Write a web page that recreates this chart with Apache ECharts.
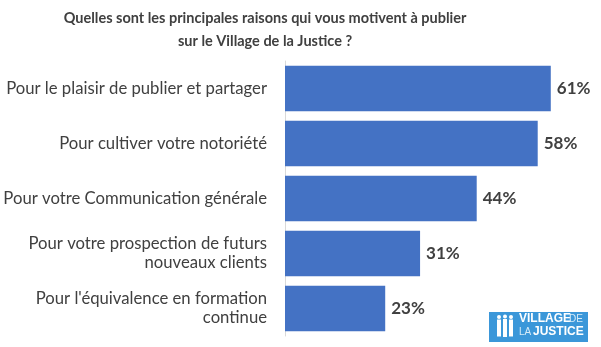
<!DOCTYPE html>
<html>
<head>
<meta charset="utf-8">
<script src="https://cdn.jsdelivr.net/npm/echarts@6/dist/echarts.min.js"></script>
<style>html,body{margin:0;padding:0;background:#fff}#c{width:601px;height:347px}</style>
</head>
<body>
<div id="c"></div>
<script>
var titleText = "Quelles sont les principales raisons qui vous motivent à publier\nsur le Village de la Justice ?";
var categories = [
  "Pour le plaisir de publier et partager",
  "Pour cultiver votre notoriété",
  "Pour votre Communication générale",
  "Pour votre prospection de futurs\nnouveaux clients",
  "Pour l'équivalence en formation\ncontinue"
];
var values = [61, 58, 44, 31, 23];

var chart = echarts.init(document.getElementById('c'), null, {renderer: 'canvas'});
var F = 'Lato, sans-serif';
chart.setOption({
  animation: false,
  backgroundColor: '#ffffff',
  title: {
    text: titleText,
    left: 260, top: 2, textAlign: 'center',
    textStyle: {fontFamily: F, fontSize: 14.5, fontWeight: 'bold', color: '#404040', lineHeight: 23}
  },
  grid: {left: 285, right: 11, top: 61, bottom: 11, containLabel: false},
  xAxis: {
    type: 'value', min: 0, max: 70, show: false
  },
  yAxis: {
    type: 'category', data: categories, inverse: true,
    axisLine: {show: true, lineStyle: {color: '#d9d9d9', width: 1}},
    axisTick: {show: false},
    axisLabel: {margin: 18, fontFamily: F, fontSize: 16.7, color: '#404040', lineHeight: 19, align: 'right'}
  },
  series: [{
    type: 'bar', data: values, barCategoryGap: '17%',
    itemStyle: {color: '#4472c4'},
    label: {show: true, position: 'right', distance: 6, formatter: '{c}%',
      fontFamily: F, fontSize: 17, fontWeight: 'bold', color: '#404040'}
  }],
  graphic: [
    {type: 'rect', shape: {x: 489, y: 312, width: 99, height: 30}, style: {fill: '#3b97d9'}},
    {type: 'group', children: [
      {type: 'circle', shape: {cx: 499, cy: 317, r: 2}, style: {fill: '#fff'}},
      {type: 'rect', shape: {x: 497, y: 319.5, width: 4, height: 17}, style: {fill: '#fff'}},
      {type: 'circle', shape: {cx: 505, cy: 316.5, r: 2}, style: {fill: '#fff'}},
      {type: 'rect', shape: {x: 503, y: 319, width: 4, height: 18}, style: {fill: '#fff'}},
      {type: 'circle', shape: {cx: 511, cy: 317, r: 2}, style: {fill: '#fff'}},
      {type: 'rect', shape: {x: 509, y: 319.5, width: 4, height: 17}, style: {fill: '#fff'}}
    ]},
    {type: 'text', left: 519, top: 313, style: {text: 'VILLAGE', fill: '#fff', font: 'bold 12px "Liberation Sans", sans-serif'}},
    {type: 'text', left: 569, top: 314, style: {text: 'DE', fill: '#d6ebf8', font: '10px "Liberation Sans", sans-serif'}},
    {type: 'text', left: 519, top: 327, style: {text: 'LA', fill: '#d6ebf8', font: '10px "Liberation Sans", sans-serif'}},
    {type: 'text', left: 533, top: 326, style: {text: 'JUSTICE', fill: '#fff', font: 'bold 12px "Liberation Sans", sans-serif'}}
  ]
});
</script>
</body>
</html>
